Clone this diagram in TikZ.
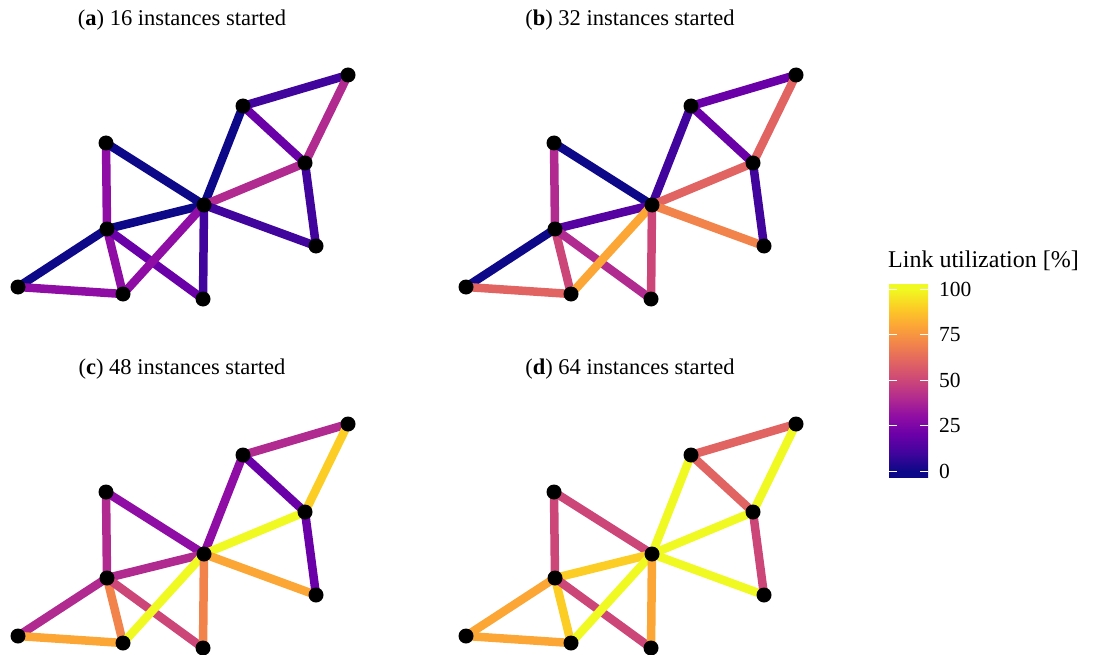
\documentclass[tikz,border=0pt]{standalone}
\usepackage{fontspec}
\setmainfont{Liberation Serif}
\usetikzlibrary{backgrounds}
\definecolor{p0}{HTML}{0D0887}
\definecolor{p1}{HTML}{41049D}
\definecolor{p2}{HTML}{6A00A8}
\definecolor{p3}{HTML}{8F0DA4}
\definecolor{p4}{HTML}{B12A90}
\definecolor{p5}{HTML}{CC4778}
\definecolor{p6}{HTML}{E16462}
\definecolor{p7}{HTML}{F2844B}
\definecolor{p8}{HTML}{FCA636}
\definecolor{p9}{HTML}{FCCE25}
\definecolor{p10}{HTML}{F0F921}
\pgfdeclareverticalshading{plasmabar}{100bp}{color(0bp)=(p0); color(26.55bp)=(p0);
 color(31.27bp)=(p1); color(35.98bp)=(p2); color(40.70bp)=(p3); color(45.41bp)=(p4);
 color(50.13bp)=(p5); color(54.84bp)=(p6); color(59.56bp)=(p7); color(64.27bp)=(p8);
 color(68.99bp)=(p9); color(73.70bp)=(p10); color(100bp)=(p10)}
\tikzset{
  vtx/.style={circle,fill=black,minimum size=15pt,inner sep=0pt},
  edge/.style={line width=8.5pt},
  ptitle/.style={font=\fontsize{22.5}{27}\selectfont,anchor=center,inner sep=0pt},
  lbl/.style={font=\fontsize{21.5}{26}\selectfont,inner sep=0pt},
  ltitle/.style={font=\fontsize{24}{29}\selectfont,inner sep=0pt},
  tick/.style={white,line width=1pt}
}
\newcommand\drawpanel[4]{%
  \begin{scope}[shift={(#1,#2)}]
    \node[vtx] (#3A) at (106,143) {};
    \node[vtx] (#3B) at (107,229) {};
    \node[vtx] (#3C) at (18,287) {};
    \node[vtx] (#3D) at (123,294) {};
    \node[vtx] (#3E) at (204,205) {};
    \node[vtx] (#3F) at (203,299) {};
    \node[vtx] (#3G) at (243,106) {};
    \node[vtx] (#3H) at (348,75) {};
    \node[vtx] (#3I) at (305,163) {};
    \node[vtx] (#3J) at (316,246) {};
  \end{scope}
  \begin{pgfonlayer}{background}
    \foreach \u/\v/\c in {#4} \draw[edge,draw=\c] (#3\u.center) -- (#3\v.center);
  \end{pgfonlayer}
}
\begin{document}
\begin{tikzpicture}[x=1pt,y=-1pt]
\useasboundingbox (0,0) rectangle (1099,655);
\node[ptitle] (ta) at (182,20) {(\textbf{a}) 16 instances started};
\node[ptitle] (tb) at (630,20) {(\textbf{b}) 32 instances started};
\node[ptitle] (tc) at (182,369) {(\textbf{c}) 48 instances started};
\node[ptitle] (td) at (630,369) {(\textbf{d}) 64 instances started};
\drawpanel{0}{0}{a}{A/B/p3,A/E/p0,B/C/p0,B/D/p3,B/E/p0,B/F/p2,C/D/p3,D/E/p3,E/F/p1,E/G/p0,E/I/p4,E/J/p1,G/H/p1,G/I/p2,H/I/p4,I/J/p1}
\drawpanel{448}{0}{b}{A/B/p4,A/E/p0,B/C/p0,B/D/p5,B/E/p1!50!p2,B/F/p4,C/D/p6,D/E/p8,E/F/p5,E/G/p1,E/I/p6,E/J/p7,G/H/p2,G/I/p2,H/I/p6,I/J/p1}
\drawpanel{0}{349}{c}{A/B/p4,A/E/p3,B/C/p4,B/D/p7,B/E/p4,B/F/p5,C/D/p8,D/E/p10,E/F/p7,E/G/p3,E/I/p10,E/J/p8,G/H/p4,G/I/p2,H/I/p9,I/J/p2}
\drawpanel{448}{349}{d}{A/B/p5,A/E/p5,B/C/p8,B/D/p9,B/E/p9,B/F/p5,C/D/p8,D/E/p10,E/F/p8,E/G/p10,E/I/p10,E/J/p10,G/H/p6,G/I/p6,H/I/p10,I/J/p5}
% colour bar
\node[ltitle,anchor=west] (cbt) at (888,261) {Link utilization [\%]};
\shade[shading=plasmabar] (889,284) rectangle (928,477);
\foreach \v/\y in {0/471,25/425.5,50/380,75/334.5,100/289}{
  \draw[tick] (889,\y) -- (897,\y);
  \draw[tick] (920,\y) -- (928,\y);
  \node[lbl,anchor=west] (cb\v) at (939,\y) {\v};
}
\end{tikzpicture}
\end{document}
